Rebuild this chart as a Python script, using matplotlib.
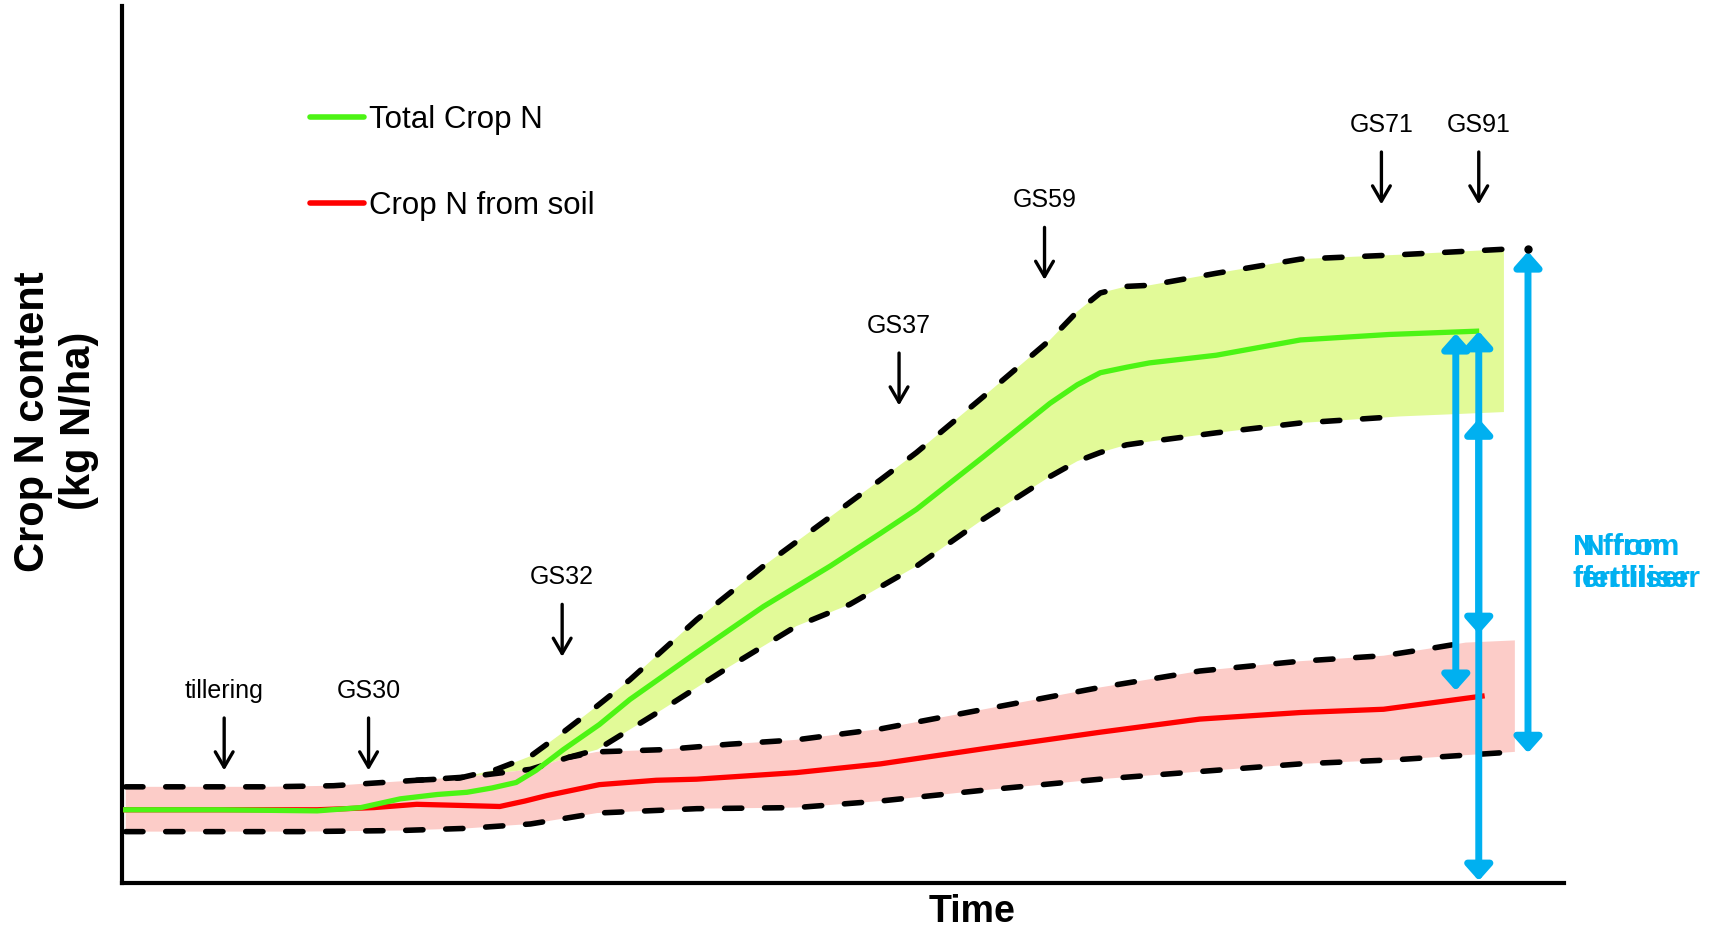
import numpy as np
import matplotlib.pyplot as plt

plt.rcParams['font.family'] = ['Liberation Sans', 'DejaVu Sans']

# time axis is arbitrary units, N content in arbitrary units
total_t = np.array([3, 88, 178, 218, 254, 288, 315, 338, 360, 378, 403, 436, 464, 525, 586,
                    647, 693, 726, 787, 848, 873, 894, 918, 939, 1000, 1077, 1158, 1238])
total_n = np.array([67, 67, 66, 69, 77, 81, 83, 87, 92, 103, 122, 145, 168, 211, 253,
                    290, 320, 342, 390, 439, 456, 467, 472, 476, 483, 497, 502, 505])

soil_t = np.array([3, 178, 230, 269, 308, 345, 368, 388, 436, 488, 525, 616, 693, 788, 894,
                   985, 1077, 1153, 1198, 1243])
soil_n = np.array([67, 67, 69, 72, 71, 70, 75, 80, 90, 94, 95, 101, 109, 123, 138,
                   150, 156, 159, 165, 171])

# uncertainty envelope around total crop N
tot_hi_t = np.array([269, 308, 342, 373, 403, 434, 464, 525, 586, 647, 693, 726, 787, 848,
                     873, 894, 918, 939, 1000, 1077, 1168, 1263])
tot_hi_n = np.array([94, 96, 104, 116, 138, 162, 186, 241, 290, 335, 369, 394, 445, 497,
                     523, 540, 546, 547, 558, 571, 575, 580])
tot_lo_t = np.array([269, 315, 373, 408, 434, 494, 555, 616, 665, 726, 787, 848, 873, 894,
                     918, 939, 1000, 1077, 1168, 1263])
tot_lo_n = np.array([94, 97, 104, 115, 122, 159, 198, 235, 255, 290, 333, 372, 386, 394,
                     401, 404, 412, 421, 427, 431])

# uncertainty envelope around soil N
soil_hi_t = np.array([3, 132, 193, 269, 315, 373, 408, 434, 494, 555, 616, 693, 788, 894,
                      985, 1077, 1153, 1198, 1228, 1273])
soil_hi_n = np.array([88, 88, 89, 94, 97, 104, 115, 120, 122, 127, 131, 141, 159, 179,
                      194, 203, 208, 215, 220, 222])
soil_lo_t = np.array([3, 162, 254, 315, 373, 434, 525, 616, 693, 788, 894, 985, 1077, 1168,
                      1273])
soil_lo_n = np.array([47, 47, 48, 50, 54, 64, 68, 69, 75, 85, 95, 102, 109, 113, 120])

# growth stages
stages = ['tillering', 'GS30', 'GS32', 'GS37', 'GS59', 'GS71', 'GS91']
stage_t = [93, 225, 402, 710, 843, 1151, 1240]
stage_label_n = [176, 176, 280, 510, 625, 694, 694]

# fertiliser N arrows (t, top, bottom)
fert_arrows = [(1219, 503, 176), (1240, 505, 2), (1240, 425, 228), (1285, 578, 119)]

GREEN = '#4CF414'
GREEN_FILL = '#E2FA98'
RED = '#FF0000'
RED_FILL = '#FCCCC8'
BLUE = '#00B0F0'

fig = plt.figure(figsize=(17.15, 9.32), dpi=100)
ax = fig.add_axes([0.0714, 0.0526, 0.8406, 0.9414])
ax.set_xlim(0, 1318)
ax.set_ylim(0, 803)

# shaded envelopes
ax.fill(np.r_[tot_hi_t, tot_lo_t[::-1]], np.r_[tot_hi_n, tot_lo_n[::-1]],
        color=GREEN_FILL, lw=0, zorder=1)
ax.fill(np.r_[soil_hi_t, soil_lo_t[::-1]], np.r_[soil_hi_n, soil_lo_n[::-1]],
        color=RED_FILL, lw=0, zorder=1)

dash = dict(color='black', lw=4, ls=(0, (3.1, 4.1)), dash_capstyle='round', zorder=2)
ax.plot(soil_hi_t[:-1], soil_hi_n[:-1], **dash)
ax.plot(soil_lo_t, soil_lo_n, **dash)
ax.plot(tot_hi_t, tot_hi_n, **dash)
m = (tot_lo_t >= 408) & (tot_lo_t <= 1220)
ax.plot(tot_lo_t[m], tot_lo_n[m], **dash)

ax.plot(soil_t, soil_n, color=RED, lw=3.8, solid_joinstyle='round', zorder=3,
        label='Crop N from soil')
ax.plot(total_t, total_n, color=GREEN, lw=3.8, solid_joinstyle='round', zorder=4,
        label='Total Crop N')

# growth stage markers
for name, t, n in zip(stages, stage_t, stage_label_n):
    ax.text(t, n, name, ha='center', va='center', fontsize=18)
    ax.annotate('', xy=(t, n - 73), xytext=(t, n - 25),
                arrowprops=dict(arrowstyle='->,head_length=0.55,head_width=0.32',
                                color='black', lw=2.4, mutation_scale=20,
                                shrinkA=0, shrinkB=0))

# fertiliser N contribution
for t, top, bot in fert_arrows:
    ax.annotate('', xy=(t, top), xytext=(t, bot),
                arrowprops=dict(arrowstyle='<|-|>,head_length=0.45,head_width=0.4',
                                color=BLUE, lw=5, mutation_scale=20,
                                shrinkA=0, shrinkB=0), zorder=5)
ax.plot([1285], [580], 'o', color='black', ms=5, zorder=6)

for dx in (0, 0.006):
    fig.text(0.917 + dx, 0.396, 'N from\nfertiliser', color=BLUE, fontsize=21.5,
             fontweight='bold', ha='left', va='center', linespacing=1.2)

h = ax.get_legend_handles_labels()
leg = ax.legend(h[0][::-1], h[1][::-1], loc='upper left', bbox_to_anchor=(0.13, 0.887),
                frameon=False, fontsize=22.5, handlelength=1.73, handletextpad=0.15,
                labelspacing=1.8, borderpad=0, borderaxespad=0)
for line in leg.get_lines():
    line.set_solid_capstyle('round')
    line.set_linewidth(4)

for s in ['top', 'right']:
    ax.spines[s].set_visible(False)
for s in ['left', 'bottom']:
    ax.spines[s].set_linewidth(3)
ax.set_xticks([])
ax.set_yticks([])

fig.text(0.0325, 0.548, 'Crop N content\n(kg N/ha)', rotation=90, ha='center', va='center',
         fontsize=30, fontweight='bold', linespacing=1.2)
fig.text(0.567, 0.021, 'Time', ha='center', va='center', fontsize=27, fontweight='bold')

fig.savefig('out.png', dpi=100)
